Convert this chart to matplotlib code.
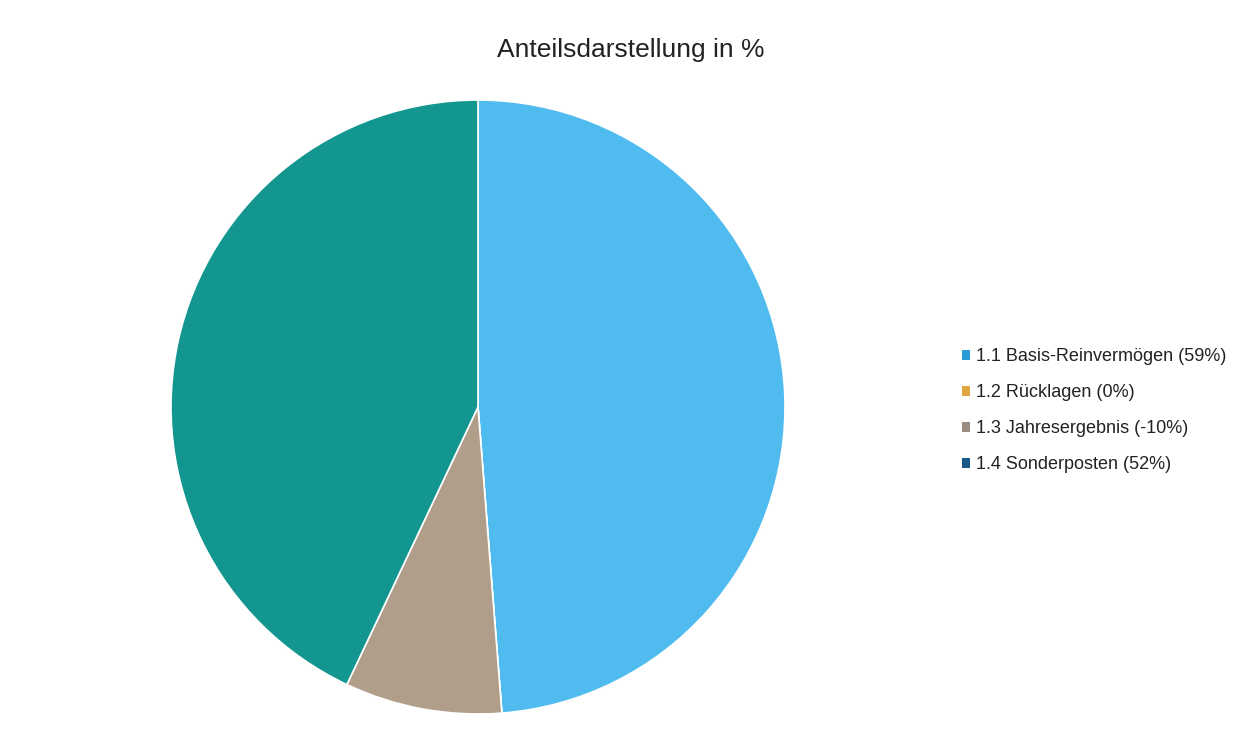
import matplotlib.pyplot as plt
from matplotlib.patches import Patch

plt.rcParams['font.family'] = ['Liberation Sans', 'DejaVu Sans']

labels = ['1.1 Basis-Reinvermögen (59%)', '1.2 Rücklagen (0%)',
          '1.3 Jahresergebnis (-10%)', '1.4 Sonderposten (52%)']
values = [59, 0, -10, 52]
slice_colors = ['#4fbbef', '#e0a640', '#b09d8a', '#13968f']
legend_colors = ['#2a9ad5', '#e0a640', '#9a8c80', '#1a5a8a']

fig = plt.figure(figsize=(12.39, 7.35), dpi=100)
fig.patch.set_facecolor('white')

# pie takes magnitudes, negative result shown by its size
sizes = [abs(v) for v in values]
ax = fig.add_axes([171 / 1239, 21 / 735, 614 / 1239, 614 / 735])
ax.pie(sizes, colors=slice_colors, startangle=90, counterclock=False,
       wedgeprops=dict(edgecolor='white', linewidth=1.2))
ax.set_xlim(-1, 1)
ax.set_ylim(-1, 1)
ax.set_aspect('equal')

fig.text(631 / 1239, 1 - 50 / 735, 'Anteilsdarstellung in %',
         ha='center', va='center', fontsize=19, color='#222222')

handles = [Patch(facecolor=c, edgecolor='none') for c in legend_colors]
fig.legend(handles, labels, loc='upper left',
           bbox_to_anchor=(946 / 1239, 1 - 332 / 735),
           frameon=False, fontsize=13, handlelength=0.45, handleheight=0.45,
           handletextpad=0.3, labelspacing=1.05, labelcolor='#222222')

fig.savefig('out.png', dpi=100)
